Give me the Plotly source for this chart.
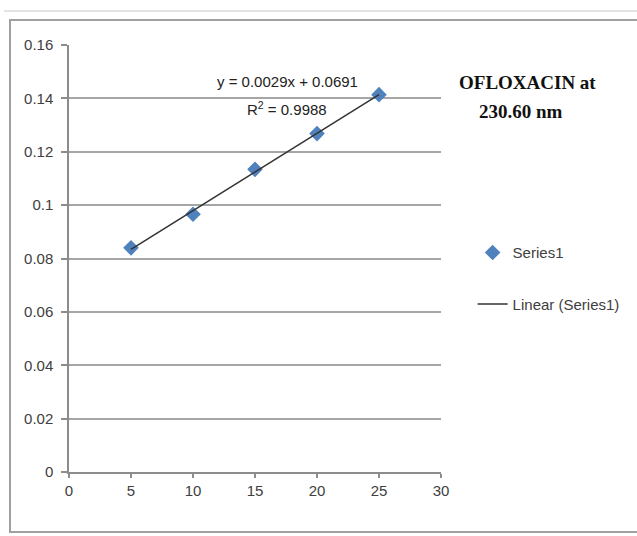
import numpy as np
import plotly.graph_objects as go

# Data
conc = [5, 10, 15, 20, 25]
absorbance = [0.084, 0.0966, 0.1134, 0.1268, 0.1414]
x_ticks = [0, 5, 10, 15, 20, 25, 30]
y_ticks = [0, 0.02, 0.04, 0.06, 0.08, 0.1, 0.12, 0.14, 0.16]
y_tick_text = ["0", "0.02", "0.04", "0.06", "0.08", "0.1", "0.12", "0.14", "0.16"]
eq_text = "y = 0.0029x + 0.0691"
r2_text = "R<sup>2</sup> = 0.9988"
title_lines = ["OFLOXACIN at", "230.60 nm"]

slope, intercept = np.polyfit(conc, absorbance, 1)
fit_y = [slope * c + intercept for c in conc]

FONT = "Liberation Sans, sans-serif"

# plot area in pixels
L, R, T, B = 69, 441, 45, 472


def px_x(p):
    return (p - L) / (R - L)


def px_y(p):
    return (B - p) / (B - T)


fig = go.Figure()
fig.add_trace(go.Scatter(
    x=conc, y=absorbance, mode="markers", name="Series1",
    marker=dict(symbol="diamond", size=12, color="#4F81BD",
                line=dict(width=0)),
    legendgroup="a",
))
fig.add_trace(go.Scatter(
    x=conc, y=fit_y, mode="lines", name="Linear (Series1)",
    line=dict(color="#333333", width=1.5),
    legendgroup="b",
))

fig.update_layout(
    width=637, height=536,
    margin=dict(l=L, r=637 - R, t=T, b=536 - B),
    paper_bgcolor="white", plot_bgcolor="white",
    font=dict(family=FONT, size=15, color="#404040"),
    showlegend=True,
    legend=dict(x=1.085, y=0.552, xanchor="left", yanchor="top",
                tracegroupgap=29, font=dict(size=15, color="#404040"),
                itemwidth=30, bgcolor="rgba(0,0,0,0)"),
    xaxis=dict(range=[0, 30], tickvals=x_ticks, showgrid=False,
               showline=True, linecolor="#8c8c8c", linewidth=1.5,
               ticks="outside", ticklen=4, tickcolor="#8c8c8c", tickwidth=1.5,
               zeroline=False, ticklabelstandoff=0,
               tickfont=dict(size=15, color="#404040")),
    yaxis=dict(range=[0, 0.16], tickvals=y_ticks, ticktext=y_tick_text,
               showgrid=True, gridcolor="#a6a6a6", gridwidth=1.5,
               showline=True, linecolor="#8c8c8c", linewidth=1.5,
               ticks="outside", ticklen=6, tickcolor="#8c8c8c", tickwidth=1.5,
               zeroline=False, ticklabelstandoff=5,
               tickfont=dict(size=15, color="#404040")),
)

# Equation annotations
fig.add_annotation(x=17.66, y=0.1465, xref="x", yref="y", text=eq_text,
                   showarrow=False, xanchor="center", yanchor="middle",
                   font=dict(size=15, color="#222222"))
fig.add_annotation(x=17.6, y=0.1362, xref="x", yref="y", text=r2_text,
                   showarrow=False, xanchor="center", yanchor="middle",
                   font=dict(size=15, color="#222222"))

# Title text at right
fig.add_annotation(x=px_x(527), y=px_y(82), xref="paper", yref="paper",
                   text="<b>" + title_lines[0] + "</b>", showarrow=False,
                   xanchor="center", yanchor="middle",
                   font=dict(family="Liberation Serif, serif", size=19, color="#111111"))
fig.add_annotation(x=px_x(521), y=px_y(112), xref="paper", yref="paper",
                   text="<b>" + title_lines[1] + "</b>", showarrow=False,
                   xanchor="center", yanchor="middle",
                   font=dict(family="Liberation Serif, serif", size=19, color="#111111"))

# Outer chart border
fig.add_shape(type="line", xref="paper", yref="paper",
              x0=px_x(4), x1=px_x(637), y0=px_y(11), y1=px_y(11),
              line=dict(color="#c8c8c8", width=1))
fig.add_shape(type="rect", xref="paper", yref="paper",
              x0=px_x(10), x1=px_x(640), y0=px_y(532), y1=px_y(20),
              line=dict(color="#a0a0a0", width=2))

fig.write_html("out.html")
